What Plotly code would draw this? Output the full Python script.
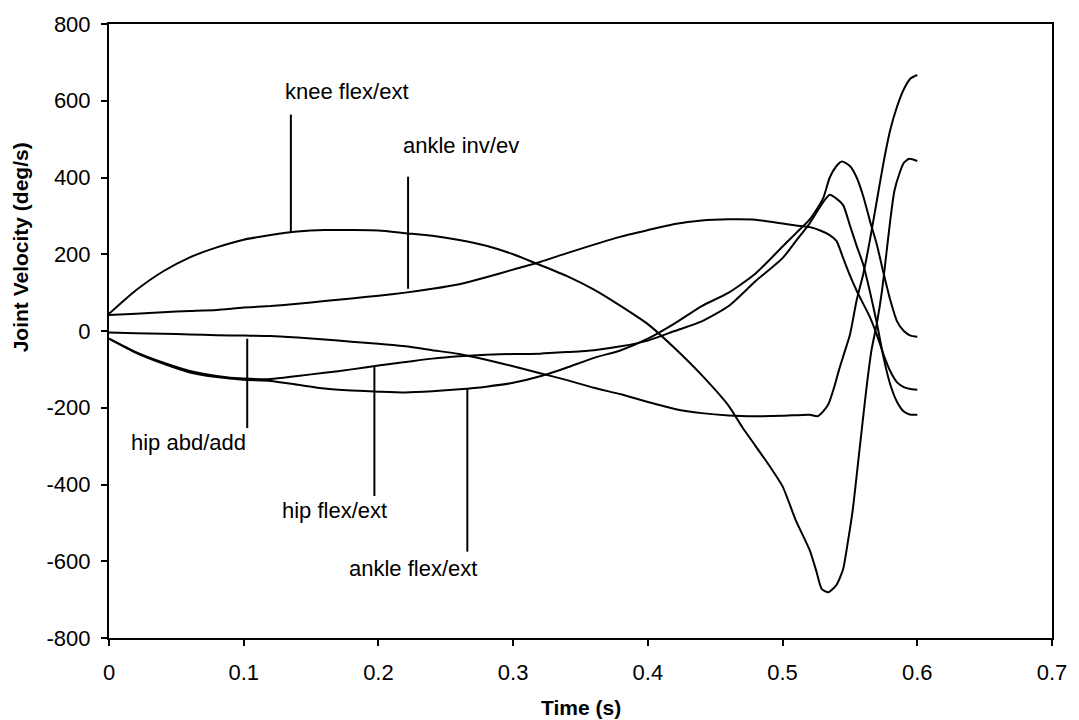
import plotly.graph_objects as go

# Joint angular velocities (deg/s) over time (s)
knee_t = [0, 0.01, 0.02, 0.04, 0.06, 0.08, 0.10, 0.12, 0.14, 0.16, 0.18, 0.20, 0.22, 0.24, 0.26,
          0.28, 0.30, 0.32, 0.34, 0.36, 0.38, 0.40, 0.42, 0.44, 0.46, 0.47, 0.48, 0.49, 0.50, 0.51,
          0.52, 0.525, 0.529, 0.534, 0.540, 0.545, 0.548, 0.552, 0.557, 0.562, 0.566, 0.570, 0.574,
          0.577, 0.580, 0.583, 0.587, 0.590, 0.594, 0.600]
knee_v = [45, 76, 106, 155, 192, 218, 238, 250, 259, 263, 263, 262, 255, 248, 237,
          222, 200, 172, 143, 108, 65, 18, -45, -115, -195, -250, -300, -350, -405, -495,
          -570, -625, -672, -681, -662, -620, -560, -469, -313, -157, -50, 20, 110,
          200, 290, 365, 413, 438, 449, 443]

ankle_inv_t = [0, 0.02, 0.04, 0.06, 0.08, 0.10, 0.12, 0.14, 0.16, 0.18, 0.20, 0.22, 0.24, 0.26,
               0.28, 0.30, 0.32, 0.34, 0.36, 0.38, 0.40, 0.42, 0.44, 0.46, 0.48, 0.50, 0.51, 0.52,
               0.528, 0.535, 0.540, 0.545, 0.550, 0.555, 0.560, 0.565, 0.570, 0.575, 0.580, 0.585,
               0.590, 0.595, 0.600]
ankle_inv_v = [42, 45, 49, 52, 55, 61, 65, 71, 78, 85, 92, 100, 110, 122,
               140, 160, 180, 203, 225, 246, 263, 279, 288, 291, 290, 280, 275, 271,
               262, 250, 235, 190, 145, 105, 70, 35, -10, -62, -105, -134,
               -146, -151, -153]

hip_abd_t = [0, 0.02, 0.04, 0.06, 0.08, 0.10, 0.12, 0.14, 0.16, 0.18, 0.20, 0.22, 0.24, 0.26,
             0.28, 0.30, 0.32, 0.34, 0.36, 0.38, 0.40, 0.42, 0.44, 0.46, 0.48, 0.50, 0.52, 0.526,
             0.530, 0.534, 0.538, 0.542, 0.546, 0.550, 0.555, 0.560, 0.565, 0.570, 0.575, 0.580,
             0.585, 0.590, 0.595, 0.600]
hip_abd_v = [-4, -6, -7, -9, -11, -12, -13, -17, -22, -28, -33, -40, -50, -60,
             -75, -92, -110, -128, -148, -165, -185, -203, -214, -220, -222, -221, -218, -222,
             -210, -191, -150, -100, -55, -10, 80, 150, 240, 340, 440, 525,
             585, 630, 658, 667]

hip_flex_t = [0, 0.02, 0.04, 0.06, 0.08, 0.10, 0.12, 0.14, 0.16, 0.18, 0.20, 0.22, 0.24, 0.26,
              0.28, 0.30, 0.32, 0.34, 0.36, 0.38, 0.40, 0.42, 0.44, 0.46, 0.48, 0.50, 0.51, 0.52,
              0.53, 0.535, 0.540, 0.545, 0.550, 0.555, 0.560, 0.565, 0.570, 0.575, 0.580, 0.585,
              0.590, 0.595, 0.600]
hip_flex_v = [-20, -55, -82, -104, -117, -124, -125, -117, -109, -100, -90, -81, -72, -66,
              -62, -60, -59, -55, -50, -40, -25, 0, 25, 65, 130, 190, 235, 280,
              335, 355, 345, 328, 275, 222, 172, 100, 20, -70, -140, -185,
              -210, -218, -218]

ankle_flex_t = [0, 0.02, 0.04, 0.06, 0.08, 0.10, 0.12, 0.14, 0.16, 0.18, 0.20, 0.22, 0.24, 0.26,
                0.28, 0.30, 0.32, 0.34, 0.36, 0.38, 0.40, 0.42, 0.44, 0.46, 0.48, 0.50, 0.51, 0.52,
                0.53, 0.535, 0.540, 0.544, 0.550, 0.555, 0.560, 0.565, 0.570, 0.575, 0.580, 0.585,
                0.590, 0.595, 0.600]
ankle_flex_v = [-20, -57, -85, -108, -120, -127, -130, -140, -150, -155, -158, -160, -157, -152,
                -145, -135, -118, -95, -70, -50, -20, 20, 65, 100, 150, 220, 255, 290,
                345, 400, 430, 442, 430, 400, 350, 285, 225, 150, 80, 25,
                0, -12, -15]

# Curve labels: text centre (t, v) and the leader line (t, from v to v)
label_text = ["knee flex/ext", "ankle inv/ev", "hip abd/add", "hip flex/ext", "ankle flex/ext"]
label_t = [0.1765, 0.2614, 0.0591, 0.1676, 0.2256]
label_v = [623, 483, -291, -469, -618]
leader_t = [0.135, 0.222, 0.1026, 0.197, 0.266]
leader_v0 = [564, 402, -253, -430, -575]
leader_v1 = [258, 110, -20, -90, -150]

x_ticks = [0, 0.1, 0.2, 0.3, 0.4, 0.5, 0.6, 0.7]
x_ticktext = ["0", "0.1", "0.2", "0.3", "0.4", "0.5", "0.6", "0.7"]
y_ticks = [-800, -600, -400, -200, 0, 200, 400, 600, 800]
y_ticktext = ["-800", "-600", "-400", "-200", "0", "200", "400", "600", "800"]

FONT = "Liberation Sans, Arial, Helvetica, sans-serif"
line_style = dict(color="black", width=2)

fig = go.Figure()
for name, t, v in [("knee flex/ext", knee_t, knee_v),
                   ("ankle inv/ev", ankle_inv_t, ankle_inv_v),
                   ("hip abd/add", hip_abd_t, hip_abd_v),
                   ("hip flex/ext", hip_flex_t, hip_flex_v),
                   ("ankle flex/ext", ankle_flex_t, ankle_flex_v)]:
    fig.add_trace(go.Scatter(x=t, y=v, mode="lines", name=name,
                             line=dict(color="black", width=2, shape="spline", smoothing=0.6)))

for txt, tx, ty, lt, lv0, lv1 in zip(label_text, label_t, label_v, leader_t, leader_v0, leader_v1):
    fig.add_trace(go.Scatter(x=[lt, lt], y=[lv0, lv1], mode="lines",
                             line=line_style, hoverinfo="skip"))
    fig.add_annotation(x=tx, y=ty, xref="x", yref="y", text=txt, showarrow=False,
                       xanchor="center", yanchor="middle",
                       font=dict(family=FONT, size=22, color="black"))

axis_common = dict(showline=True, linecolor="black", linewidth=2, mirror=True,
                   ticks="outside", ticklen=6, tickwidth=2, tickcolor="black",
                   showgrid=False, zeroline=False,
                   tickfont=dict(family=FONT, size=22, color="black"))

fig.update_xaxes(range=[0, 0.7], tickmode="array", tickvals=x_ticks, ticktext=x_ticktext,
                 ticklabelstandoff=8, **axis_common)
fig.update_yaxes(range=[-800, 800], tickmode="array", tickvals=y_ticks, ticktext=y_ticktext,
                 ticklabelstandoff=6, **axis_common)

fig.add_annotation(x=0.5, y=-0.1135, xref="paper", yref="paper", text="<b>Time (s)</b>",
                   showarrow=False, xanchor="center", yanchor="middle",
                   font=dict(family=FONT, size=21, color="black"))
fig.add_annotation(x=-0.0939, y=0.637, xref="paper", yref="paper",
                   text="<b>Joint Velocity (deg/s)</b>", textangle=-90,
                   showarrow=False, xanchor="center", yanchor="middle",
                   font=dict(family=FONT, size=21, color="black"))

fig.update_layout(width=1079, height=720, showlegend=False,
                  margin=dict(l=109, r=22, t=21, b=82),
                  plot_bgcolor="white", paper_bgcolor="white",
                  font=dict(family=FONT, color="black"))

fig.write_html("out.html")
